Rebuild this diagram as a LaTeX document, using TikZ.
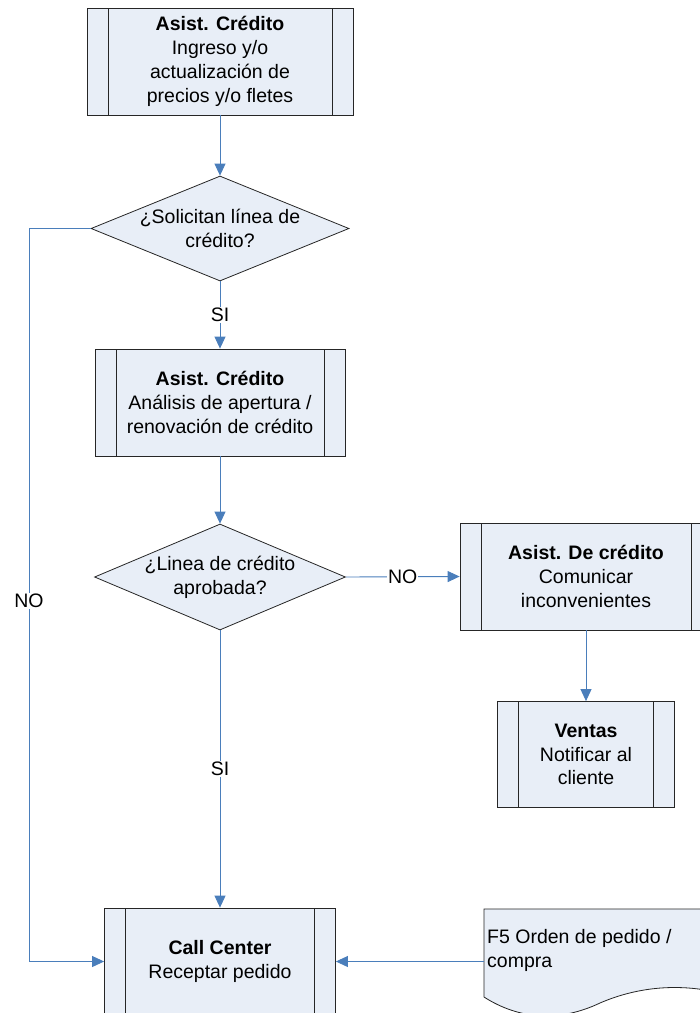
\documentclass[tikz,border=0pt]{standalone}
\usepackage{fontspec}
\setmainfont{Liberation Sans}
\usetikzlibrary{arrows.meta, shapes.geometric}
\definecolor{boxfill}{HTML}{E8EEF7}
\definecolor{flowblue}{HTML}{4A7EBB}

\begin{document}
\begin{tikzpicture}[x=1pt, y=-1pt, >={Triangle[length=12pt,width=11pt]},
	line join=miter, font=\fontsize{19.5}{23.8}\selectfont,
	proc/.style={draw=black!85, line width=0.8pt, fill=boxfill, align=center,
		inner sep=0pt, minimum height=107pt,
		path picture={
			\draw[black!85, line width=0.8pt]
			([xshift=21pt]path picture bounding box.north west) -- ([xshift=21pt]path picture bounding box.south west);
			\draw[black!85, line width=0.8pt]
			([xshift=-21pt]path picture bounding box.north east) -- ([xshift=-21pt]path picture bounding box.south east);
		}},
	decision/.style={diamond, aspect=2.4, draw=black!85, line width=0.8pt, fill=boxfill,
		align=center, inner sep=-4pt, minimum height=105pt},
	flow/.style={->, flowblue, line width=0.9pt},
	answer/.style={fill=white, inner sep=1pt, text=black}]

\useasboundingbox (0,0) rectangle (700,1013);

%========================
% Main column
%========================
\node[proc, minimum width=266pt] (asist1) at (220,61.5)
	{\textbf{Asist. Crédito}\\Ingreso y/o\\actualización de\\precios y/o fletes};
\node[decision, minimum width=258pt] (solicitan) at (220,228.5)
	{¿Solicitan línea de\\crédito?};
\node[proc, minimum width=250pt] (analisis) at (220,402.5)
	{\textbf{Asist. Crédito}\\Análisis de apertura /\\renovación de crédito};
\node[decision, minimum width=251pt, minimum height=106pt] (aprobada) at (220,577)
	{¿Linea de crédito\\aprobada?};
\node[proc, minimum width=231pt] (callcenter) at (220,961.5)
	{\textbf{Call Center}\\Receptar pedido};

%========================
% Right column
%========================
\node[proc, minimum width=252pt] (comunicar) at (586,576.5)
	{\textbf{Asist. De crédito}\\Comunicar\\inconvenientes};
\node[proc, minimum width=177pt, minimum height=106pt] (ventas) at (586,754.5)
	{\textbf{Ventas}\\Notificar al\\cliente};

% document shape (cut off by the page)
\filldraw[draw=black!85, line width=0.8pt, fill=boxfill]
	(484,909) -- (716,909) -- (716,992)
	.. controls (670,982) and (630,990) .. (600,1003)
	.. controls (560,1022) and (520,1020) .. (484,997) -- cycle;
\node[anchor=north west, align=left, inner sep=0pt] (orden) at (487,929.5)
	{F5 Orden de pedido /\\compra};
\coordinate (doc) at (484,961.5);

%========================
% Connectors
%========================
\draw[flow] (asist1.south) -- (solicitan.north);
\draw[flow] (solicitan.south) -- node[answer] {SI} (analisis.north);
\coordinate (noturn) at (29,228.5);
\draw[flow] (solicitan.west) -- (noturn) |- node[answer, pos=0.254] {NO} (callcenter.west);
\draw[flow] (analisis.south) -- (aprobada.north);
\draw[flow] (aprobada.east) -- node[answer] {NO} (comunicar.west);
\draw[flow] (aprobada.south) -- node[answer] {SI} (callcenter.north);
\draw[flow] (comunicar.south) -- (ventas.north);
\draw[flow] (doc) -- (callcenter.east);

\end{tikzpicture}
\end{document}
